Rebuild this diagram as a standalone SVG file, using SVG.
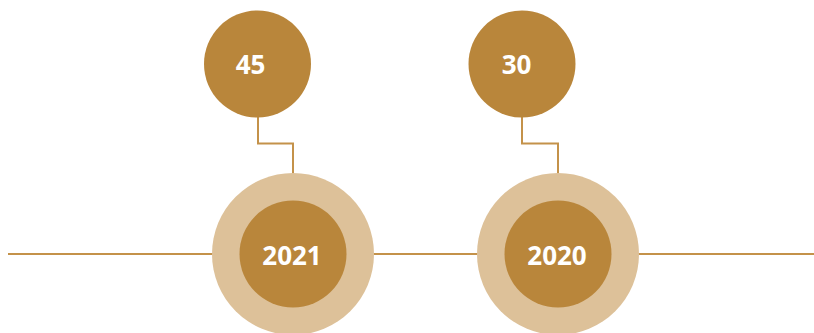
<svg xmlns="http://www.w3.org/2000/svg" width="814" height="333" viewBox="0 0 814 333">
<style>
.dark{fill:#B9863B}
.light{fill:#DDC199}
.ln{fill:none;stroke:#C4924A;stroke-width:2}
.t{font-family:"Open Sans","Liberation Sans",sans-serif;font-weight:700;fill:#FFFFFF;text-anchor:middle}
</style>
<rect width="814" height="333" fill="#FFFFFF"/>
<g id="connectors">
<line class="ln" x1="8" y1="254" x2="814" y2="254"/>
<polyline class="ln" points="258,116 258,143.5 293,143.5 293,176"/>
<polyline class="ln" points="522,116 522,143.5 558,143.5 558,176"/>
</g>
<g id="year-2021">
<circle class="light" cx="293" cy="254" r="81"/>
<circle class="dark" cx="293" cy="254" r="53.5"/>
<text class="t" x="292" y="264.5" font-size="26">2021</text>
</g>
<g id="year-2020">
<circle class="light" cx="558" cy="254" r="81"/>
<circle class="dark" cx="558" cy="254" r="53.5"/>
<text class="t" x="557" y="264.5" font-size="26">2020</text>
</g>
<g id="value-45">
<circle class="dark" cx="257.5" cy="64" r="53.5"/>
<text class="t" x="250.5" y="74" font-size="26">45</text>
</g>
<g id="value-30">
<circle class="dark" cx="522" cy="64" r="53.5"/>
<text class="t" x="516.5" y="74" font-size="26">30</text>
</g>
</svg>
